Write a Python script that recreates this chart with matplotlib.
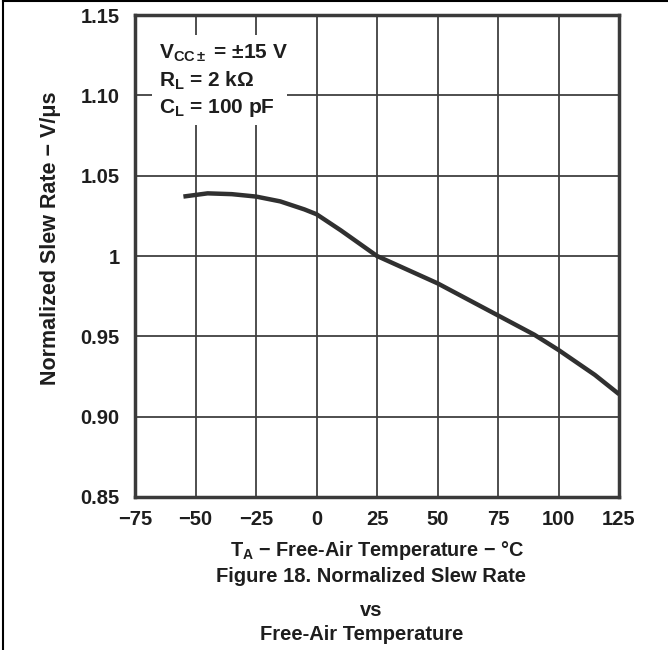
import matplotlib
matplotlib.use("Agg")
import matplotlib.pyplot as plt
from matplotlib.lines import Line2D
from matplotlib.patches import Rectangle

plt.rcParams['font.family'] = ['Liberation Sans', 'DejaVu Sans']
plt.rcParams['font.weight'] = 'bold'
plt.rcParams['mathtext.fontset'] = 'custom'
plt.rcParams['mathtext.rm'] = 'Liberation Sans:bold'
plt.rcParams['mathtext.it'] = 'Liberation Sans:bold'
plt.rcParams['mathtext.bf'] = 'Liberation Sans:bold'
plt.rcParams['mathtext.default'] = 'rm'

# Data
temperature = [-55, -45, -35, -25, -15, -5, 0, 10, 25, 50, 75, 90, 100, 115, 125]
slew_rate = [1.037, 1.039, 1.0385, 1.037, 1.034, 1.029, 1.026, 1.016, 1.000,
             0.983, 0.963, 0.951, 0.9415, 0.926, 0.914]
x_ticks = [-75, -50, -25, 0, 25, 50, 75, 100, 125]
x_ticklabels = ['\u221275', '\u221250', '\u221225', '0', '25', '50', '75', '100', '125']
y_ticks = [0.85, 0.90, 0.95, 1.00, 1.05, 1.10, 1.15]
y_ticklabels = ['0.85', '0.90', '0.95', '1', '1.05', '1.10', '1.15']
conditions = ['V$_{CC\\pm}$ = \u00b115 V', 'R$_{L}$ = 2 k\u03a9', 'C$_{L}$ = 100 pF']

TXT = '#1e1e1e'

fig = plt.figure(figsize=(6.68, 6.5), dpi=100)
ax = fig.add_axes([0.2021, 0.2354, 0.7246, 0.7415])

ax.set_xlim(-75, 125)
ax.set_ylim(0.85, 1.15)
ax.set_xticks(x_ticks)
ax.set_xticklabels(x_ticklabels, fontsize=14.5, fontweight='bold', color=TXT)
ax.set_yticks(y_ticks)
ax.set_yticklabels(y_ticklabels, fontsize=14.5, fontweight='bold', color=TXT)
ax.tick_params(axis='both', length=0)
ax.tick_params(axis='x', pad=9.5)
ax.tick_params(axis='y', pad=11)

ax.grid(True, color='#404040', linewidth=1.3)
ax.set_axisbelow(True)
for s in ax.spines.values():
    s.set_linewidth(2.5)
    s.set_color('#3a3a3a')

ax.plot(temperature, slew_rate, color='#303030', linewidth=3.2, solid_capstyle='butt', zorder=3)

ax.set_xlabel('T$_{A}$ \u2212 Free-Air Temperature \u2212 \u00b0C', fontsize=14.3,
              fontweight='bold', color=TXT)
ax.xaxis.set_label_coords(0.5, -0.088)
ax.set_ylabel('Normalized Slew Rate \u2212 V/\u03bcs', fontsize=15.5,
              fontweight='bold', color=TXT)
ax.yaxis.set_label_coords(-0.153, 0.536)

# White box behind the test conditions
ax.add_patch(Rectangle((-68, 1.0816), 55.8, 0.056, facecolor='white',
                       edgecolor='none', zorder=2))
cond_y = [1.1227, 1.1054, 1.0892]
for txt, yy in zip(conditions, cond_y):
    ax.text(-65.1, yy, txt, fontsize=15, fontweight='bold', va='baseline',
            ha='left', color=TXT, zorder=4)

fig.text(0.556, 0.1135, 'Figure 18. Normalized Slew Rate', ha='center', va='center',
         fontsize=14.5, fontweight='bold', color=TXT)
fig.text(0.555, 0.0615, 'vs', ha='center', va='center', fontsize=14.5,
         fontweight='bold', color=TXT)
fig.text(0.542, 0.0235, 'Free-Air Temperature', ha='center', va='center',
         fontsize=14.5, fontweight='bold', color=TXT)

fig.add_artist(Line2D([0.0045, 1.0], [0.9985, 0.9985], color='black', linewidth=1.5,
                      transform=fig.transFigure))
fig.add_artist(Line2D([0.0045, 0.0045], [0.0, 0.9985], color='black', linewidth=1.5,
                      transform=fig.transFigure))

fig.savefig('out.png', dpi=100)
